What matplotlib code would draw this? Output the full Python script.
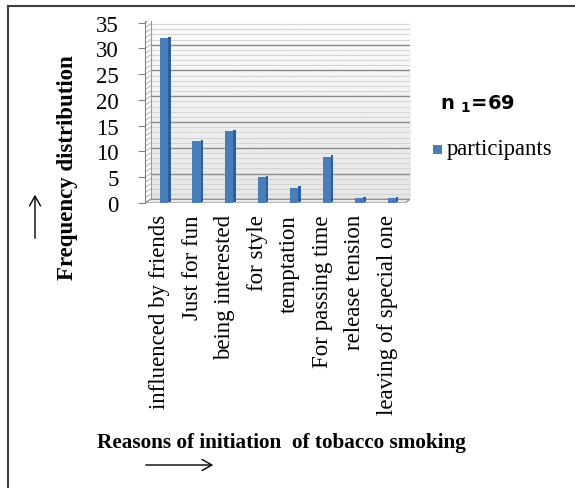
import matplotlib.pyplot as plt
import numpy as np
from matplotlib.lines import Line2D
from matplotlib.patches import FancyArrowPatch, Rectangle

reasons = ["influenced by friends", "Just for fun", "being interested", "for style",
           "temptation", "For passing time", "release tension", "leaving of special one"]
participants = [32, 12, 14, 5, 3, 9, 1, 1]
y_ticks = [0, 5, 10, 15, 20, 25, 30, 35]

W, H = 575, 489
fig = plt.figure(figsize=(W / 100, H / 100), dpi=100)
serif = "Liberation Serif"

# axes box in pixel units (left, bottom from top)
x0, x1, ytop, ybot = 145, 410, 22, 204
ax = fig.add_axes([x0 / W, 1 - ybot / H, (x1 - x0) / W, (ybot - ytop) / H])
ax.set_xlim(-0.45, len(reasons) - 0.3)
ax.set_ylim(0, 35.3)
ax.set_facecolor("none")
for s in ("top", "right", "bottom"):
    ax.spines[s].set_visible(False)
ax.spines["left"].set_color("#808080")

# depth offset of the back wall (data units)
dx, dy = 0.17, 0.7
xl, xr = -0.45 + dx, len(reasons) - 0.3

# back wall with soft gray shading
grad = np.linspace(0.90, 0.985, 256).reshape(-1, 1)
ax.imshow(grad, extent=[xl, xr, dy, 35 + dy], aspect="auto", cmap="gray",
          vmin=0, vmax=1, origin="lower", zorder=0)
for v in np.arange(0, 35.01, 1):
    major = v % 5 == 0
    ax.plot([xl, xr], [v + dy, v + dy], color="#8c8c8c" if major else "#cfcfcf",
            lw=1.0 if major else 0.6, zorder=1)
    ax.plot([-0.45, xl], [v, v + dy], color="#a8a8a8", lw=0.6, zorder=1)
ax.plot([xl, xl], [dy, 35 + dy], color="#9a9a9a", lw=0.8, zorder=1)

# floor
floor = plt.Polygon([[-0.45, 0], [xr - dx, 0], [xr, dy], [xl, dy]],
                    facecolor="#e8e8e8", edgecolor="#8c8c8c", lw=0.8, zorder=1)
ax.add_patch(floor)

# bars sit mid-depth, with a darker side face
x = np.arange(len(reasons))
xb = x + 0.14
ax.bar(xb, participants, width=0.26, color="#4a7ebb", zorder=3, label="participants")
ax.bar(xb + 0.16, participants, width=0.07, bottom=0.25, color="#2f5f9a", zorder=2)

ax.set_yticks(y_ticks)
ax.set_yticklabels([str(v) for v in y_ticks], fontfamily=serif, fontsize=16.5)
ax.tick_params(axis="y", length=5, color="#808080", pad=14)
ax.set_xticks(x)
ax.set_xticklabels(reasons, rotation=90, fontfamily=serif, fontsize=16.5, va="top")
ax.tick_params(axis="x", length=0, pad=8)

# axis titles and arrows
fig.text(67 / W, 1 - 168 / H, "Frequency distribution", rotation=90, ha="center",
         va="center", fontfamily=serif, fontweight="bold", fontsize=16.5)
fig.text(97 / W, 1 - 443 / H, "Reasons of initiation  of tobacco smoking", ha="left",
         va="center", fontfamily=serif, fontweight="bold", fontsize=15.3)
fig.add_artist(FancyArrowPatch((35 / W, 1 - 242 / H), (35 / W, 1 - 193 / H),
                               transform=fig.transFigure, arrowstyle="->,head_length=7,head_width=4",
                               color="black", lw=1.0))
fig.add_artist(FancyArrowPatch((143 / W, 1 - 466 / H), (216 / W, 1 - 466 / H),
                               transform=fig.transFigure, arrowstyle="->,head_length=7,head_width=4",
                               color="black", lw=1.0))

# sample size and legend
fig.text(440 / W, 1 - 104 / H, r"n $_\mathbf{1}$=69", ha="left", va="center",
         fontfamily="DejaVu Sans", fontweight="bold", fontsize=14)
fig.add_artist(Rectangle((433 / W, 1 - 155 / H), 9 / W, 9 / H,
                         transform=fig.transFigure, facecolor="#4a7ebb", edgecolor="none"))
fig.text(447 / W, 1 - 150 / H, "participants", ha="left", va="center",
         fontfamily=serif, fontsize=16.3)

# outer frame (top and left edges)
fig.add_artist(Line2D([8 / W, 1], [1 - 7 / H, 1 - 7 / H], transform=fig.transFigure,
                      color="#404040", lw=1.5))
fig.add_artist(Line2D([8 / W, 8 / W], [0, 1 - 7 / H], transform=fig.transFigure,
                      color="#404040", lw=1.5))

fig.savefig("out.png", dpi=100)
